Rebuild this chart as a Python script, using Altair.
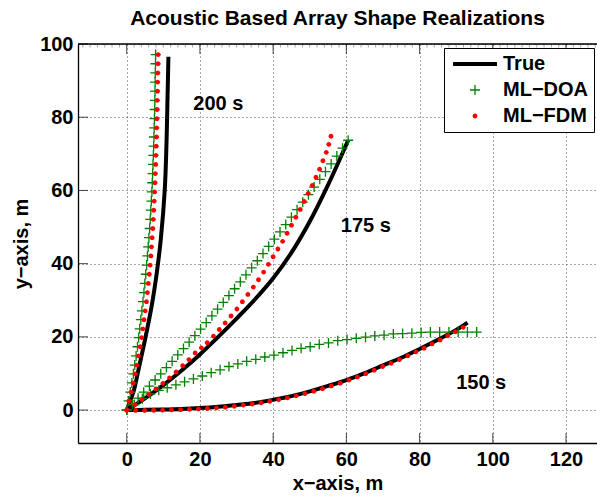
import altair as alt
import pandas as pd

# ---------------- data ----------------
SERIES = ["True", "ML\u2212DOA", "ML\u2212FDM"]
COLORS = ["#000000", "#008000", "#ff0000"]

X_TICKS = [0, 20, 40, 60, 80, 100, 120]
Y_TICKS = [0, 20, 40, 60, 80, 100]
X_MINOR = list(range(-12, 129, 2))
X_RANGE = [-13.3, 128.46]
Y_RANGE = [-9, 100]

# True array shapes (solid black curves)
TRUE_200_X = [0, 2.0, 3.0, 4.0, 5.0, 6.8, 8.2, 9.3, 10.4, 10.9, 11.1, 11.4]
TRUE_200_Y = [0, 5.5, 10.0, 14.6, 19.2, 28.3, 37.4, 46.5, 60.2, 73.9, 83.0, 96.5]

TRUE_175_X = [0, 5, 10, 15, 20, 25, 30, 35, 40, 45, 50, 55, 60.5]
TRUE_175_Y = [0, 3.2, 6.8, 10.8, 15.2, 20.0, 25.0, 30.2, 36.0, 43.0, 51.5, 61.5, 73.7]

TRUE_150_X = [0, 5, 10, 15, 20, 25, 30, 35, 40, 45, 50, 55, 60, 65, 70, 75, 80, 85, 90, 93.1]
TRUE_150_Y = [0, 0.05, 0.15, 0.3, 0.55, 0.9, 1.4, 1.95, 2.8, 3.8, 5.1, 6.6, 8.2, 10.1, 12.2,
              14.3, 16.7, 19.2, 21.9, 23.9]

# ML-DOA estimates (green plus markers)
DOA_200_X = [7.9, 7.86, 7.81, 7.77, 7.73, 7.69, 7.64, 7.59, 7.51, 7.44, 7.36, 7.28, 7.18, 7.08,
             6.98, 6.88, 6.73, 6.58, 6.43, 6.27, 6.07, 5.87, 5.67, 5.46, 5.21, 4.96, 4.71, 4.45,
             4.15, 3.86, 3.56, 3.27, 2.95, 2.57, 2.2, 1.83, 1.41, 0.98, 0.5, 0]
DOA_200_Y = [97.1, 94.6, 92.1, 89.6, 87.1, 84.6, 82.1, 79.6, 77.1, 74.6, 72.1, 69.6, 67.1, 64.6,
             62.1, 59.6, 57.1, 54.6, 52.1, 49.6, 47.1, 44.6, 42.1, 39.6, 37.1, 34.6, 32.1, 29.6,
             27.1, 24.7, 22.2, 19.8, 17.3, 14.8, 12.3, 9.9, 7.4, 4.9, 2.5, 0]

DOA_175_X = [0, 1.55, 3.1, 4.65, 6.21, 7.76, 9.31, 10.86, 12.41, 13.96, 15.51, 17.06, 18.62,
             20.17, 21.72, 23.27, 24.82, 26.37, 27.92, 29.47, 31.03, 32.58, 34.13, 35.68, 37.23,
             38.78, 40.33, 41.88, 43.44, 44.99, 46.54, 48.09, 49.64, 51.19, 52.74, 54.29, 55.85,
             57.4, 58.95, 60.5]
DOA_175_Y = [0, 1.61, 3.24, 4.88, 6.54, 8.21, 9.9, 11.6, 13.32, 15.05, 16.79, 18.55, 20.32,
             22.11, 23.91, 25.73, 27.56, 29.41, 31.27, 33.14, 35.03, 36.94, 38.86, 40.79, 42.74,
             44.7, 46.68, 48.67, 50.67, 52.69, 54.73, 56.78, 58.84, 60.92, 63.02, 65.12, 67.25,
             69.38, 71.53, 73.7]

DOA_150_X = [0, 2.1, 4.27, 6.48, 8.75, 11.07, 13.44, 15.81, 18.23, 20.66, 23.08, 25.51, 27.93,
             30.36, 32.78, 35.26, 37.73, 40.21, 42.69, 45.16, 47.64, 50.12, 52.59, 55.12, 57.65,
             60.18, 62.71, 65.24, 67.77, 70.3, 72.83, 75.36, 77.89, 80.42, 82.95, 85.48, 88.01,
             90.54, 93.07, 95.6]
DOA_150_Y = [0, 1.5, 3.1, 4.4, 5.4, 6.1, 6.9, 7.7, 8.5, 9.3, 10.2, 11.0, 11.9, 12.6, 13.3, 13.85,
             14.5, 15.0, 15.65, 16.3, 16.85, 17.3, 17.95, 18.35, 18.95, 19.25, 19.6, 19.9, 20.25,
             20.45, 20.8, 20.9, 21.0, 21.2, 21.3, 21.3, 21.3, 21.3, 21.3, 21.3]

# ML-FDM estimates (red dot markers)
FDM_200_X = [8.6, 8.55, 8.49, 8.44, 8.39, 8.34, 8.29, 8.24, 8.18, 8.12, 8.05, 7.99, 7.9, 7.81,
             7.72, 7.63, 7.5, 7.38, 7.25, 7.12, 6.95, 6.77, 6.6, 6.41, 6.16, 5.91, 5.66, 5.4,
             5.06, 4.73, 4.4, 4.07, 3.71, 3.21, 2.74, 2.28, 1.73, 1.18, 0.6, 0]
FDM_200_Y = [97.1, 94.6, 92.1, 89.6, 87.1, 84.6, 82.1, 79.6, 77.1, 74.6, 72.1, 69.6, 67.1, 64.6,
             62.1, 59.6, 57.1, 54.6, 52.1, 49.6, 47.1, 44.6, 42.1, 39.6, 37.1, 34.6, 32.1, 29.6,
             27.1, 24.7, 22.2, 19.8, 17.3, 14.8, 12.3, 9.9, 7.4, 4.9, 2.5, 0]

FDM_175_X = [0, 2.2, 4.2, 6.1, 8.0, 9.9, 11.7, 13.5, 15.3, 17.0, 18.7, 20.4, 22.0, 23.7, 25.3,
             26.9, 28.5, 30.1, 31.6, 33.1, 34.6, 36.0, 37.4, 38.7, 40.0, 41.3, 42.6, 43.8, 45.0,
             46.2, 47.4, 48.5, 49.6, 50.7, 51.7, 52.7, 53.6, 54.5, 55.2, 55.8]
FDM_175_Y = [0, 1.5, 2.9, 4.3, 5.8, 7.3, 8.8, 10.4, 12.1, 13.8, 15.6, 17.0, 18.4, 20.2, 22.0,
             23.8, 25.7, 27.6, 29.6, 31.6, 33.6, 35.6, 37.7, 39.8, 41.9, 44.0, 46.1, 48.3, 50.5,
             52.7, 54.8, 57.0, 59.2, 61.4, 63.6, 65.8, 68.1, 70.4, 72.6, 74.8]

FDM_150_X = [0, 2.45, 4.9, 7.35, 9.8, 12.25, 14.7, 17.15, 19.6, 22.05, 24.5, 26.95, 29.4, 31.85,
             34.3, 36.7, 39.1, 41.5, 43.9, 46.3, 48.7, 51.1, 53.5, 55.9, 58.3, 60.7, 63.0, 65.3,
             67.6, 69.9, 72.2, 74.5, 76.8, 79.0, 81.2, 83.4, 85.6, 87.7, 89.8, 91.9]
FDM_150_Y = [0, -0.1, -0.1, -0.05, 0.0, 0.05, 0.1, 0.2, 0.3, 0.45, 0.6, 0.8, 1.05, 1.35, 1.65,
             2.0, 2.4, 2.85, 3.35, 3.9, 4.5, 5.15, 5.85, 6.6, 7.35, 8.2, 9.05, 9.95, 10.9, 11.9,
             12.8, 13.8, 14.85, 15.9, 16.9, 18.1, 19.15, 20.3, 21.4, 22.6]

# curve annotations
LABEL_TEXT = ["200 s", "175 s", "150 s"]
LABEL_X = [18.2, 58.5, 90.0]
LABEL_Y = [83.7, 50.3, 7.4]

# ---------------- tables ----------------
def rows(xs, ys, name, curve):
    return [{"x": a, "y": b, "series": name, "curve": curve, "i": k}
            for k, (a, b) in enumerate(zip(xs, ys))]

true_df = pd.DataFrame(rows(TRUE_200_X, TRUE_200_Y, SERIES[0], "200")
                       + rows(TRUE_175_X, TRUE_175_Y, SERIES[0], "175")
                       + rows(TRUE_150_X, TRUE_150_Y, SERIES[0], "150"))
pts_df = pd.DataFrame(rows(DOA_200_X, DOA_200_Y, SERIES[1], "200")
                      + rows(DOA_175_X, DOA_175_Y, SERIES[1], "175")
                      + rows(DOA_150_X, DOA_150_Y, SERIES[1], "150")
                      + rows(FDM_200_X, FDM_200_Y, SERIES[2], "200")
                      + rows(FDM_175_X, FDM_175_Y, SERIES[2], "175")
                      + rows(FDM_150_X, FDM_150_Y, SERIES[2], "150"))
pts_df["n"] = range(len(pts_df))
lab_df = pd.DataFrame({"x": LABEL_X, "y": LABEL_Y, "t": LABEL_TEXT})

# frame pieces: top border, minor ticks along the top, inward major ticks
top_df = pd.DataFrame({"y": [Y_RANGE[1]]})
minor_df = pd.DataFrame({"x": X_MINOR, "y": [Y_RANGE[1]] * len(X_MINOR)})
xtop_df = pd.DataFrame({"x": X_TICKS, "y": [Y_RANGE[1]] * len(X_TICKS)})
xbot_df = pd.DataFrame({"x": X_TICKS, "y": [Y_RANGE[0]] * len(X_TICKS)})
yleft_df = pd.DataFrame({"x": [X_RANGE[0]] * len(Y_TICKS), "y": Y_TICKS})

# ---------------- style ----------------
FONT = "Liberation Sans"
FS = 20
LINE_SYM = "M-2.2,-0.2L2.2,-0.2L2.2,0.2L-2.2,0.2Z"
PLUS_SYM = ("M-0.5,-0.065L-0.065,-0.065L-0.065,-0.5L0.065,-0.5L0.065,-0.065L0.5,-0.065"
            "L0.5,0.065L0.065,0.065L0.065,0.5L-0.065,0.5L-0.065,0.065L-0.5,0.065Z")
DOT_SYM = "M-0.24,0A0.24,0.24 0 1,0 0.24,0A0.24,0.24 0 1,0 -0.24,0Z"
SHAPES = [LINE_SYM, PLUS_SYM, DOT_SYM]

xsc = alt.Scale(domain=X_RANGE, nice=False, zero=False)
ysc = alt.Scale(domain=Y_RANGE, nice=False, zero=False)

grid_kw = dict(gridColor="#4d4d4d", gridDash=[1, 3], gridWidth=1)
lab_kw = dict(labelFont=FONT, labelFontSize=FS, labelFontWeight="bold", labelColor="black",
              titleFont=FONT, titleFontSize=FS, titleFontWeight="bold", titleColor="black",
              domainColor="black", domainWidth=1.3)

x_axis = alt.Axis(values=X_TICKS, title="x\u2212axis, m", grid=True, ticks=False,
                  labelPadding=6, titlePadding=4, **grid_kw, **lab_kw)
y_axis = alt.Axis(values=Y_TICKS, title="y\u2212axis, m", grid=True, ticks=False,
                  labelPadding=5, titlePadding=8, **grid_kw, **lab_kw)

X = alt.X("x:Q", scale=xsc, axis=x_axis)
Y = alt.Y("y:Q", scale=ysc, axis=y_axis)

leg = alt.Legend(title=None, orient="none", legendX=366, legendY=4, strokeColor="black",
                 fillColor="white", padding=6, rowPadding=6, symbolSize=400,
                 symbolStrokeWidth=0, symbolOffset=15, labelOffset=18,
                 labelExpr="datum.label + '      '",
                 labelFont=FONT, labelFontSize=FS, labelFontWeight="bold", labelColor="black")

lines = alt.Chart(true_df).mark_line(color="black", strokeWidth=4,
                                     interpolate="catmull-rom").encode(
    x=X, y=Y, detail="curve:N", order="i:Q")

points = alt.Chart(pts_df).mark_point(filled=True, size=400, opacity=1, strokeWidth=0).encode(
    x=X, y=Y,
    color=alt.Color("series:N", scale=alt.Scale(domain=SERIES, range=COLORS), legend=leg),
    shape=alt.Shape("series:N", scale=alt.Scale(domain=SERIES, range=SHAPES), legend=leg),
    order="n:Q",
)

labels = alt.Chart(lab_df).mark_text(align="left", baseline="middle", font=FONT, fontSize=FS,
                                     fontWeight="bold", color="black").encode(
    x=X, y=Y, text="t:N")

top_border = alt.Chart(top_df).mark_rule(color="black", strokeWidth=1.3).encode(y=Y)
minor_ticks = alt.Chart(minor_df).mark_tick(orient="vertical", size=3, thickness=1,
                                            color="#808080", yOffset=2).encode(x=X, y=Y)
top_ticks = alt.Chart(xtop_df).mark_tick(orient="vertical", size=10, thickness=1,
                                         color="black", yOffset=5).encode(x=X, y=Y)
bot_ticks = alt.Chart(xbot_df).mark_tick(orient="vertical", size=10, thickness=1,
                                         color="black", yOffset=-5).encode(x=X, y=Y)
left_ticks = alt.Chart(yleft_df).mark_tick(orient="horizontal", size=10, thickness=1,
                                           color="black", xOffset=5).encode(x=X, y=Y)

chart = alt.layer(minor_ticks, top_ticks, bot_ticks, left_ticks, top_border,
                  lines, points, labels).properties(
    width=519,
    height=399,
    title=alt.TitleParams("Acoustic Based Array Shape Realizations", font=FONT, fontSize=21,
                          fontWeight="bold", color="black", anchor="middle", offset=5),
    autosize=alt.AutoSizeParams(type="none"),
    padding={"left": 78, "top": 44, "right": 0, "bottom": 54},
).configure_view(strokeWidth=0).configure(background="white")

chart.save("out.html", embed_options={"renderer": "svg", "actions": False})
